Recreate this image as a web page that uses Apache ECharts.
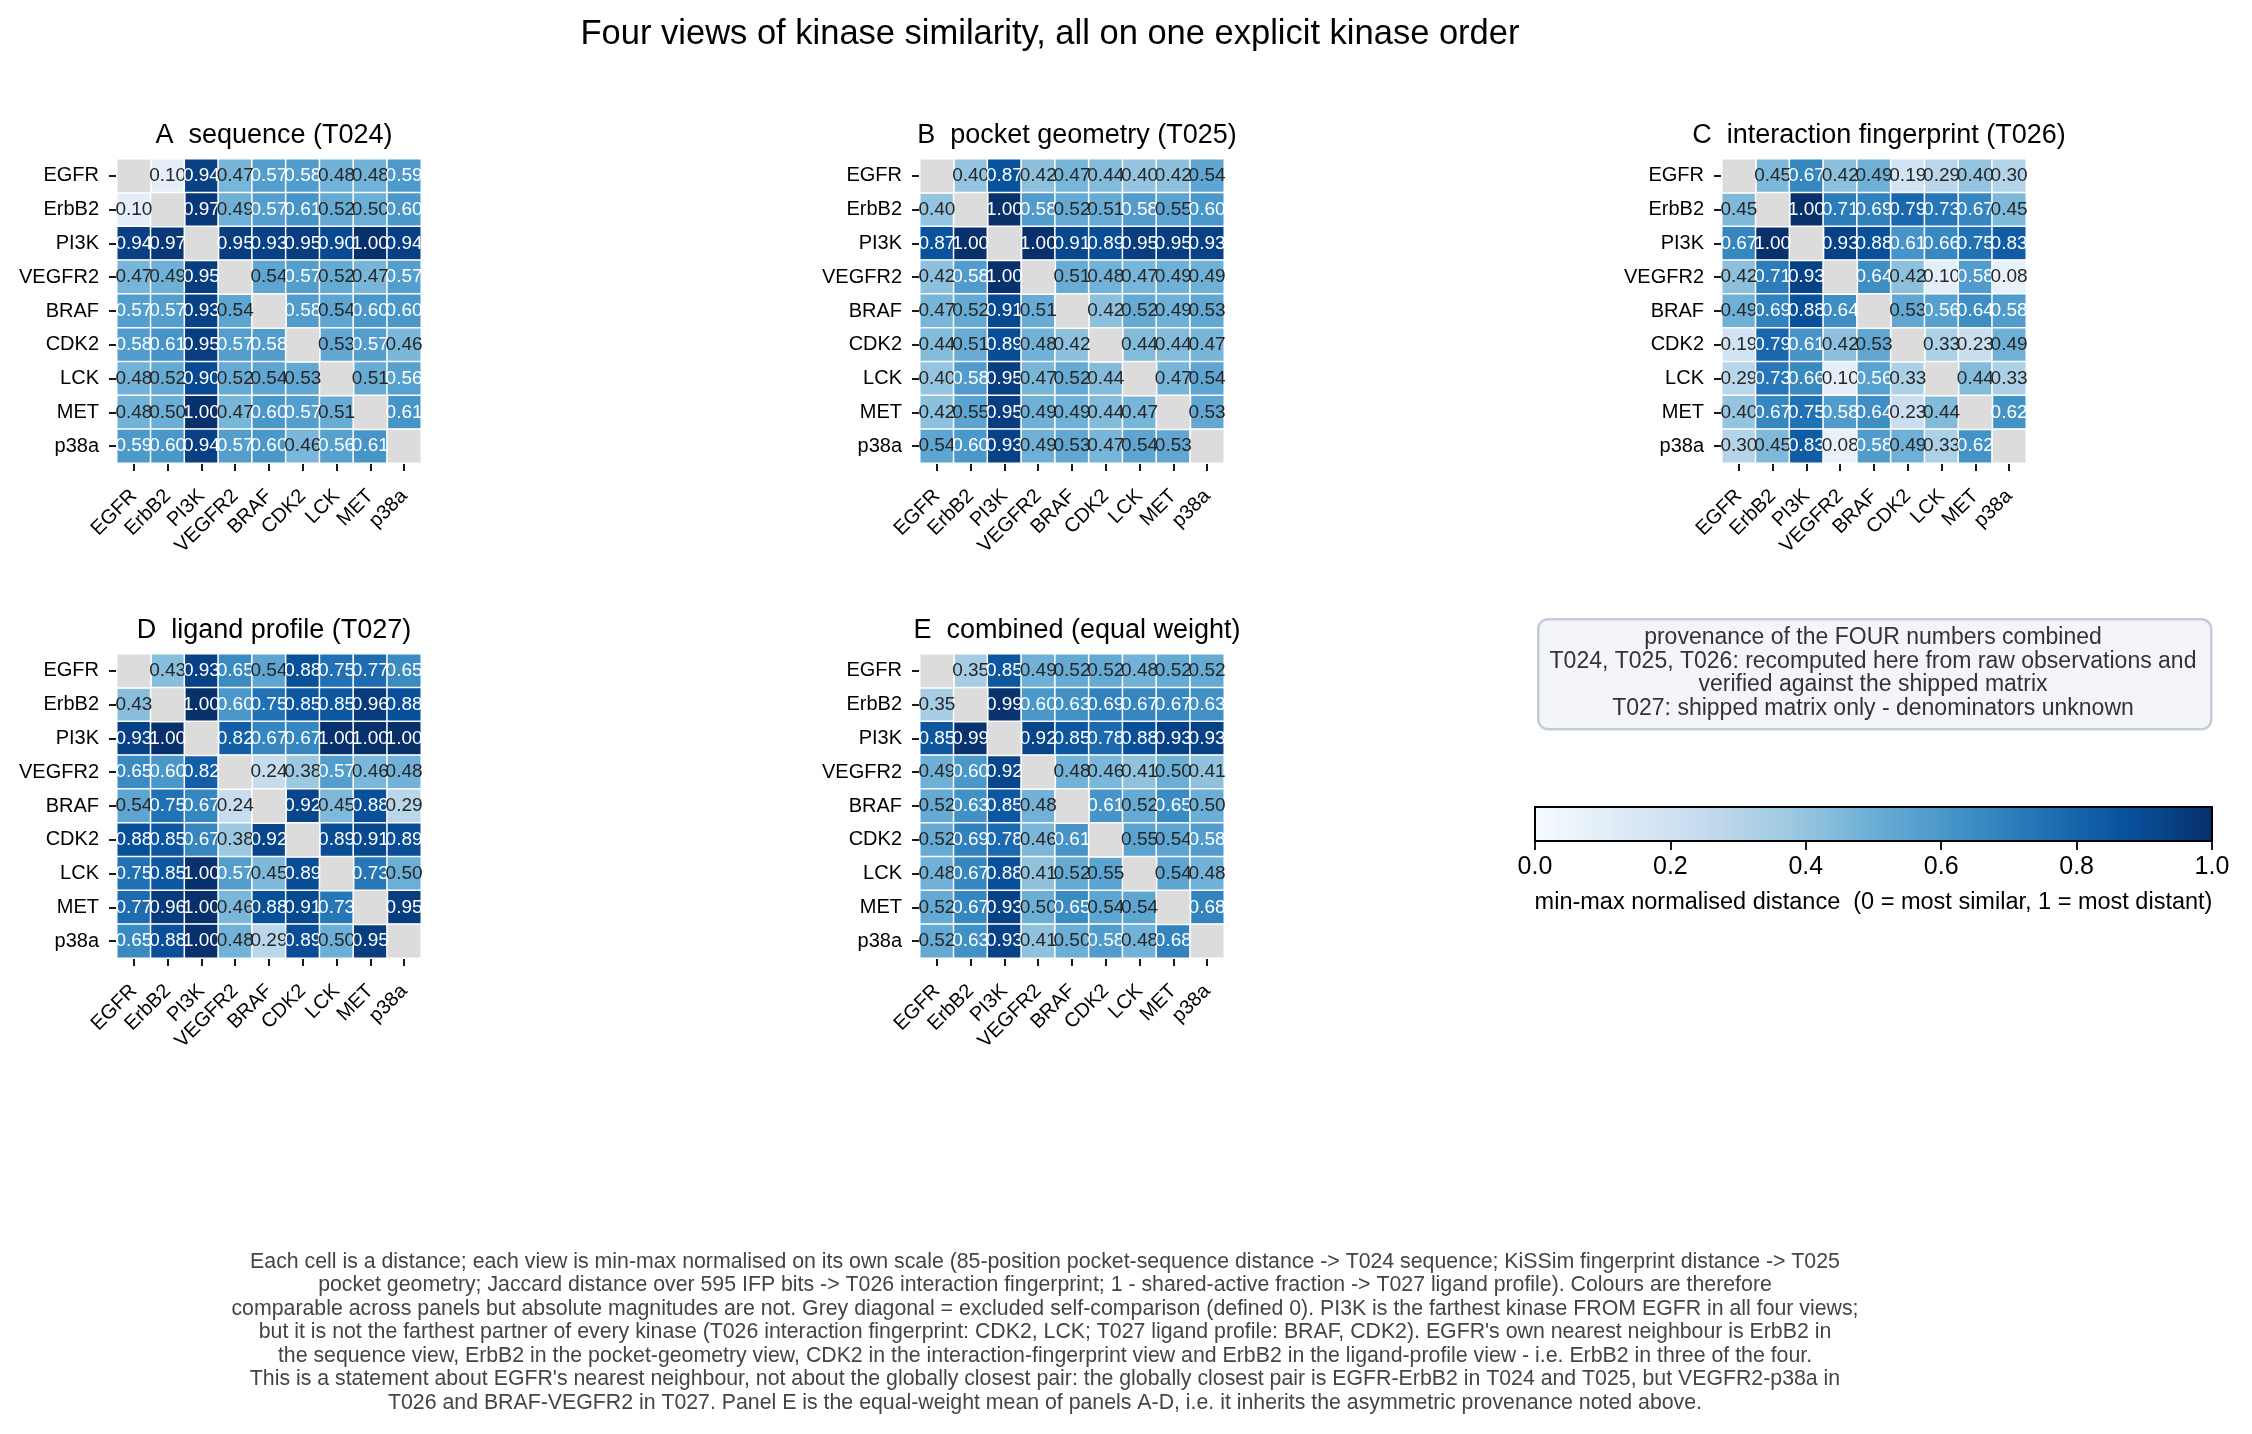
<!DOCTYPE html>
<html><head><meta charset="utf-8">
<script src="https://cdn.jsdelivr.net/npm/echarts@6/dist/echarts.min.js"></script>
<style>html,body{margin:0;padding:0;background:#fff}#c{width:2252px;height:1434px}</style>
</head><body><div id="c"></div><script>
const kinases = ['EGFR','ErbB2','PI3K','VEGFR2','BRAF','CDK2','LCK','MET','p38a'];
const panelTitles = ['A  sequence (T024)','B  pocket geometry (T025)','C  interaction fingerprint (T026)','D  ligand profile (T027)','E  combined (equal weight)'];
const mainTitle = 'Four views of kinase similarity, all on one explicit kinase order';
const colorbarTicks = [0, 0.2, 0.4, 0.6, 0.8, 1.0];
const colorbarLabel = 'min-max normalised distance  (0 = most similar, 1 = most distant)';
const provenanceLines = [
  'provenance of the FOUR numbers combined',
  'T024, T025, T026: recomputed here from raw observations and',
  'verified against the shipped matrix',
  'T027: shipped matrix only - denominators unknown'
];
const footnoteLines = [
  "Each cell is a distance; each view is min-max normalised on its own scale (85-position pocket-sequence distance -> T024 sequence; KiSSim fingerprint distance -> T025",
  "pocket geometry; Jaccard distance over 595 IFP bits -> T026 interaction fingerprint; 1 - shared-active fraction -> T027 ligand profile). Colours are therefore",
  "comparable across panels but absolute magnitudes are not. Grey diagonal = excluded self-comparison (defined 0). PI3K is the farthest kinase FROM EGFR in all four views;",
  "but it is not the farthest partner of every kinase (T026 interaction fingerprint: CDK2, LCK; T027 ligand profile: BRAF, CDK2). EGFR's own nearest neighbour is ErbB2 in",
  "the sequence view, ErbB2 in the pocket-geometry view, CDK2 in the interaction-fingerprint view and ErbB2 in the ligand-profile view - i.e. ErbB2 in three of the four.",
  "This is a statement about EGFR's nearest neighbour, not about the globally closest pair: the globally closest pair is EGFR-ErbB2 in T024 and T025, but VEGFR2-p38a in",
  "T026 and BRAF-VEGFR2 in T027. Panel E is the equal-weight mean of panels A-D, i.e. it inherits the asymmetric provenance noted above."
];

const seqT024 = [
  [null,0.10,0.94,0.47,0.57,0.58,0.48,0.48,0.59],
  [0.10,null,0.97,0.49,0.57,0.61,0.52,0.50,0.60],
  [0.94,0.97,null,0.95,0.93,0.95,0.90,1.00,0.94],
  [0.47,0.49,0.95,null,0.54,0.57,0.52,0.47,0.57],
  [0.57,0.57,0.93,0.54,null,0.58,0.54,0.60,0.60],
  [0.58,0.61,0.95,0.57,0.58,null,0.53,0.57,0.46],
  [0.48,0.52,0.90,0.52,0.54,0.53,null,0.51,0.56],
  [0.48,0.50,1.00,0.47,0.60,0.57,0.51,null,0.61],
  [0.59,0.60,0.94,0.57,0.60,0.46,0.56,0.61,null]
];
const pocketT025 = [
  [null,0.40,0.87,0.42,0.47,0.44,0.40,0.42,0.54],
  [0.40,null,1.00,0.58,0.52,0.51,0.58,0.55,0.60],
  [0.87,1.00,null,1.00,0.91,0.89,0.95,0.95,0.93],
  [0.42,0.58,1.00,null,0.51,0.48,0.47,0.49,0.49],
  [0.47,0.52,0.91,0.51,null,0.42,0.52,0.49,0.53],
  [0.44,0.51,0.89,0.48,0.42,null,0.44,0.44,0.47],
  [0.40,0.58,0.95,0.47,0.52,0.44,null,0.47,0.54],
  [0.42,0.55,0.95,0.49,0.49,0.44,0.47,null,0.53],
  [0.54,0.60,0.93,0.49,0.53,0.47,0.54,0.53,null]
];
const ifpT026 = [
  [null,0.45,0.67,0.42,0.49,0.19,0.29,0.40,0.30],
  [0.45,null,1.00,0.71,0.69,0.79,0.73,0.67,0.45],
  [0.67,1.00,null,0.93,0.88,0.61,0.66,0.75,0.83],
  [0.42,0.71,0.93,null,0.64,0.42,0.10,0.58,0.08],
  [0.49,0.69,0.88,0.64,null,0.53,0.56,0.64,0.58],
  [0.19,0.79,0.61,0.42,0.53,null,0.33,0.23,0.49],
  [0.29,0.73,0.66,0.10,0.56,0.33,null,0.44,0.33],
  [0.40,0.67,0.75,0.58,0.64,0.23,0.44,null,0.62],
  [0.30,0.45,0.83,0.08,0.58,0.49,0.33,0.62,null]
];
const ligandT027 = [
  [null,0.43,0.93,0.65,0.54,0.88,0.75,0.77,0.65],
  [0.43,null,1.00,0.60,0.75,0.85,0.85,0.96,0.88],
  [0.93,1.00,null,0.82,0.67,0.67,1.00,1.00,1.00],
  [0.65,0.60,0.82,null,0.24,0.38,0.57,0.46,0.48],
  [0.54,0.75,0.67,0.24,null,0.92,0.45,0.88,0.29],
  [0.88,0.85,0.67,0.38,0.92,null,0.89,0.91,0.89],
  [0.75,0.85,1.00,0.57,0.45,0.89,null,0.73,0.50],
  [0.77,0.96,1.00,0.46,0.88,0.91,0.73,null,0.95],
  [0.65,0.88,1.00,0.48,0.29,0.89,0.50,0.95,null]
];
const combinedE = [
  [null,0.35,0.85,0.49,0.52,0.52,0.48,0.52,0.52],
  [0.35,null,0.99,0.60,0.63,0.69,0.67,0.67,0.63],
  [0.85,0.99,null,0.92,0.85,0.78,0.88,0.93,0.93],
  [0.49,0.60,0.92,null,0.48,0.46,0.41,0.50,0.41],
  [0.52,0.63,0.85,0.48,null,0.61,0.52,0.65,0.50],
  [0.52,0.69,0.78,0.46,0.61,null,0.55,0.54,0.58],
  [0.48,0.67,0.88,0.41,0.52,0.55,null,0.54,0.48],
  [0.52,0.67,0.93,0.50,0.65,0.54,0.54,null,0.68],
  [0.52,0.63,0.93,0.41,0.50,0.58,0.48,0.68,null]
];
const matrices = [seqT024, pocketT025, ifpT026, ligandT027, combinedE];

const BLUES = ['#f7fbff','#deebf7','#c6dbef','#9ecae1','#6baed6','#4292c6','#2171b5','#08519c','#08306b'];
const FONT = 'Liberation Sans';
const gridPos = [
  {left:117, top:159}, {left:920, top:159}, {left:1722, top:159},
  {left:117, top:654}, {left:920, top:654}
];
const SIZE = 304;

const chart = echarts.init(document.getElementById('c'), null, {renderer:'canvas'});

const grids = [], xAxes = [], yAxes = [], series = [], titles = [];
gridPos.forEach((g, i) => {
  grids.push({left:g.left, top:g.top, width:SIZE, height:SIZE, show:true, borderColor:'#000', borderWidth:2, backgroundColor:'transparent', containLabel:false});
  xAxes.push({type:'category', gridIndex:i, data:kinases, position:'bottom',
    axisLine:{show:false}, splitLine:{show:false},
    axisTick:{show:true, alignWithLabel:true, length:8, lineStyle:{color:'#000', width:1.8}},
    axisLabel:{rotate:45, fontFamily:FONT, fontSize:20, color:'#000', margin:30, interval:0}});
  yAxes.push({type:'category', gridIndex:i, data:kinases, inverse:true,
    axisLine:{show:false}, splitLine:{show:false},
    axisTick:{show:true, alignWithLabel:true, length:8, lineStyle:{color:'#000', width:1.8}},
    axisLabel:{fontFamily:FONT, fontSize:20, color:'#000', margin:18, interval:0}});
  const m = matrices[i];
  const data = [];
  for (let r = 0; r < 9; r++) for (let c = 0; c < 9; c++) if (m[r][c] !== null) data.push([c, r, m[r][c]]);
  series.push({type:'heatmap', xAxisIndex:i, yAxisIndex:i, data:data,
    itemStyle:{borderColor:'#fff', borderWidth:1.5},
    label:{show:true, fontFamily:FONT, fontSize:19,
      formatter: p => (p.value[2] > 0.55 ? '{w|' : '{k|') + p.value[2].toFixed(2) + '}',
      rich:{w:{color:'#fff', fontFamily:FONT, fontSize:19}, k:{color:'#262626', fontFamily:FONT, fontSize:19}}},
    emphasis:{disabled:true}});
  titles.push({text:panelTitles[i], left:g.left + SIZE/2, top:g.top - 42, textAlign:'center',
    textStyle:{fontFamily:FONT, fontSize:27, fontWeight:'normal', color:'#000'}});
});
// grey diagonal
gridPos.forEach((g, i) => {
  series.push({type:'heatmap', xAxisIndex:i, yAxisIndex:i,
    data: kinases.map((k, j) => [j, j, 0]),
    itemStyle:{color:'#dcdcdc', borderColor:'#fff', borderWidth:1.5},
    label:{show:false}, emphasis:{disabled:true}});
});
// colorbar
const cbGrid = {left:1535, top:807, width:677, height:34, show:true, borderColor:'#000', borderWidth:2,
  backgroundColor: new echarts.graphic.LinearGradient(0,0,1,0, BLUES.map((c, k) => ({offset:k/(BLUES.length-1), color:c})))};
grids.push(cbGrid);
xAxes.push({type:'value', gridIndex:5, min:0, max:1, interval:0.2, position:'bottom',
  axisLine:{show:false}, splitLine:{show:false},
  axisTick:{show:true, length:9, lineStyle:{color:'#000', width:1.8}},
  axisLabel:{fontFamily:FONT, fontSize:25, color:'#000', margin:14, formatter: v => v.toFixed(1)},
  name:colorbarLabel, nameLocation:'middle', nameGap:50,
  nameTextStyle:{fontFamily:FONT, fontSize:23.5, color:'#000'}});
yAxes.push({type:'value', gridIndex:5, show:false, min:0, max:1});

titles.push({text:mainTitle, left:1045, top:12, textAlign:'center',
  textStyle:{fontFamily:FONT, fontSize:34.5, fontWeight:'normal', color:'#000'}});

const option = {
  animation:false,
  backgroundColor:'#fff',
  title:titles,
  grid:grids, xAxis:xAxes, yAxis:yAxes,
  visualMap:{type:'continuous', show:false, min:0, max:1, seriesIndex:[0,1,2,3,4], inRange:{color:BLUES}},
  series:series,
  graphic:[
    {type:'rect', left:1537, top:618, shape:{width:673, height:110, r:10},
     style:{fill:'#f3f5f8', stroke:'#c3ccd8', lineWidth:2.5}},
    {type:'text', x:1873, y:626,
     style:{text:provenanceLines.join('\n'), fontFamily:FONT, fontSize:23, lineHeight:23.5, fill:'#333', align:'center', verticalAlign:'top'}},
    {type:'text', x:1045, y:1250,
     style:{text:footnoteLines.join('\n'), fontFamily:FONT, fontSize:21.3, lineHeight:23.5, fill:'#444', align:'center', verticalAlign:'top'}}
  ]
};
chart.setOption(option);
</script></body></html>
